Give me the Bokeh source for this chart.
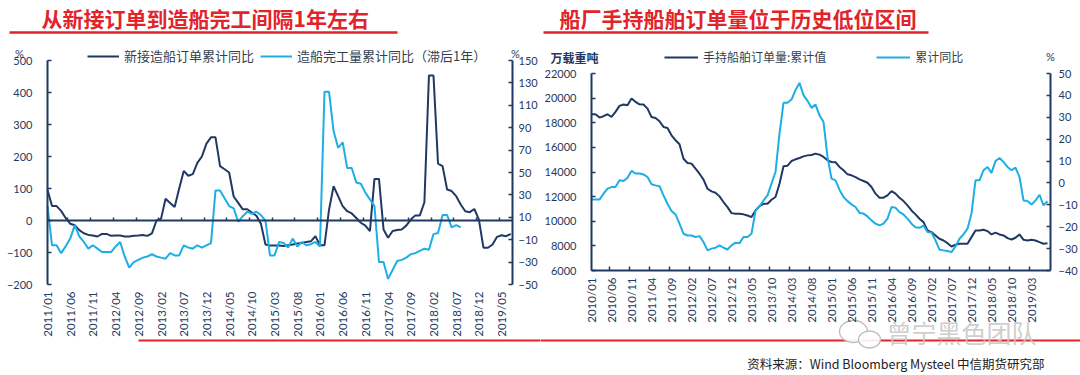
from math import pi
from bokeh.plotting import figure
from bokeh.models import Range1d, LinearAxis, FixedTicker, Legend, LegendItem, Label
from bokeh.layouts import row
from bokeh.embed import file_html
from bokeh.resources import INLINE
from bokeh.core.properties import value

# ---------------- data ----------------
left_months = [f"{2011 + k // 12}/{k % 12 + 1:02d}" for k in range(103)]   # 2011/01 .. 2019/07
new_orders_yoy = [95, 45, 45, 30, 8, -10, -15, -30, -40, -45, -47, -50, -42, -42, -48, -47, -47, -50,
                  -50, -48, -47, -45, -48, -40, 0, 5, 68, 55, 42, 100, 155, 140, 145, 180, 200, 240,
                  260, 260, 170, 160, 150, 75, 55, 35, 35, 25, 15, -10, -75, -78, -78, -78, -80, -77,
                  -75, -72, -70, -67, -65, -49, -77, -77, 34, 107, 76, 45, 29, 22, 8, -7, -16, -33,
                  130, 130, -28, -54, -33, -30, -28, -16, 3, 16, 16, 57, 453, 453, 178, 170, 97, 92,
                  76, 50, 29, 26, 36, 3, -85, -85, -75, -51, -46, -49, -42]
completion_yoy_lag1 = [20, -15, -15, -22, -16, -9, 3, -7, -12, -18, -15, -18, -21, -21, -21, -16, -12,
                       -25, -35, -30, -28, -26, -25, -23, -25, -26, -27, -22, -24, -24, -15, -17, -18,
                       -15, -17, -15, -13, 34, 34, 27, 20, 18, 6, 11, 15, 13, 15, 12, 7, -24, -24, -12,
                       -13, -17, -9, -16, -12, -15, -14, -12, -16, 122, 122, 87, 72, 77, 54, 54, 41, 40,
                       32, 26, 20, -30, -30, -45, -37, -29, -28, -26, -23, -22, -20, -18, -19, -5, -4,
                       12, 12, 1, 3, 1]
left_ticks_l = [-200, -100, 0, 100, 200, 300, 400, 500]
left_ticks_r = [-50, -30, -10, 10, 30, 50, 70, 90, 110, 130, 150]

right_months = [f"{2010 + k // 12}/{k % 12 + 1:02d}" for k in range(115)]  # 2010/01 .. 2019/07
orderbook = [18700, 18690, 18420, 18530, 18690, 18470, 18880, 19370, 19480, 19420, 19970, 19700, 19500,
             19480, 19150, 18470, 18390, 18120, 17660, 17580, 16980, 16580, 16250, 15080, 14730, 14680,
             14270, 13860, 13380, 12640, 12430, 12320, 12020, 11560, 11150, 10660, 10610, 10610, 10560,
             10470, 10340, 10880, 11230, 11420, 11420, 11750, 11970, 13050, 14460, 14510, 14890, 15030,
             15140, 15270, 15350, 15380, 15490, 15410, 15220, 14950, 14810, 14790, 14410, 14140, 13810,
             13730, 13590, 13400, 13270, 13130, 12780, 12240, 11910, 11910, 12100, 12450, 12240, 11910,
             11640, 11290, 10880, 10560, 10200, 9930, 9250, 9120, 8850, 8580, 8440, 8220, 7950, 8090,
             8170, 8170, 8170, 8710, 9250, 9250, 9310, 9200, 8930, 9070, 8930, 8850, 8630, 8520, 8660,
             8930, 8490, 8440, 8490, 8440, 8300, 8170, 8220]
orderbook_yoy = [-7.6, -7.6, -7.6, -4.9, -2.6, -1.9, -1.9, 1.2, 0.9, 2.4, 5.5, 4.3, 4.3, 3.9, 2.7, -0.6,
                 -1.1, -1.5, -5.7, -9.5, -12.8, -14.4, -18.6, -23.2, -24, -24, -24.7, -24.3, -27, -30.8,
                 -30, -29.6, -28.5, -29.6, -30.4, -28.5, -27.3, -27.5, -24.7, -24.7, -23.2, -12.8, -10.7,
                 -8, -5.7, -0.3, 5, 22.5, 36.6, 36.6, 38.1, 42.4, 45.7, 40.1, 37.5, 34.3, 35.8, 30.9,
                 27.9, 11.9, 2, 1.2, -3.1, -6.4, -8.3, -9.8, -11, -13.7, -14, -15.3, -17.1, -18.6, -19.4,
                 -18.6, -16.3, -11, -11.3, -13.3, -14.4, -16.3, -18.6, -20.2, -20.5, -19.5, -22.4, -22.7,
                 -26.2, -30.5, -30.8, -31.1, -31.6, -29, -25.5, -23.5, -20.9, -14, 1.2, 1.2, 5.8, 7.3,
                 4.6, 10, 11.4, 9.6, 7.3, 5.8, 7, 2.7, -8, -8.3, -9.9, -8, -5.4, -10.2, -8.4]
right_ticks_l = [6000, 8000, 10000, 12000, 14000, 16000, 18000, 20000, 22000]
right_ticks_r = [-40, -30, -20, -10, 0, 10, 20, 30, 40, 50]

# ---------------- style ----------------
NAVY = "#1F3864"
DARK = "#1F3864"
LIGHT = "#1EAEE6"
TICKC = "#24395E"
RED = "#E2232A"
CJK = "Noto Sans CJK SC"
NUM = "Lato"
FIG_W, FIG_H = 540, 375


class PxMap:
    """linear map between page pixels and data values for one figure"""

    def __init__(self, fig_left, xa, pxa, xb, pxb, ya, pya, yb, pyb):
        self.fl = fig_left
        self.kx = (xb - xa) / (pxb - pxa)
        self.xa, self.pxa = xa, pxa
        self.ky = (yb - ya) / (pyb - pya)
        self.ya, self.pya = ya, pya

    def x(self, px):
        return self.xa + (px - self.pxa) * self.kx

    def y(self, py):
        return self.ya + (py - self.pya) * self.ky

    def xrange(self):
        return Range1d(self.x(self.fl), self.x(self.fl + FIG_W))

    def yrange(self):
        return Range1d(self.y(FIG_H), self.y(0))


def style_axis(ax, standoff, size="11px"):
    ax.axis_line_color = NAVY
    ax.axis_line_width = 2
    ax.major_tick_line_color = NAVY
    ax.major_tick_line_width = 1.5
    ax.major_tick_in = 4
    ax.major_tick_out = 0
    ax.minor_tick_line_color = NAVY
    ax.minor_tick_line_width = 1.5
    ax.minor_tick_in = 4
    ax.minor_tick_out = 0
    ax.major_label_standoff = standoff
    ax.major_label_text_font = NUM
    ax.major_label_text_font_size = size
    ax.major_label_text_color = TICKC


def base_fig(xr, yr):
    p = figure(width=FIG_W, height=FIG_H, x_range=xr, y_range=yr, output_backend="svg",
               toolbar_location=None, x_axis_location=None, y_axis_location=None,
               min_border=0, min_border_left=0, min_border_right=0, min_border_top=0, min_border_bottom=0)
    p.outline_line_alpha = 0
    p.xgrid.visible = False
    p.ygrid.visible = False
    p.background_fill_color = "white"
    p.border_fill_color = "white"
    return p


def tlabel(p, x, y, text, size="11px", font=NUM, bold=False, align="center"):
    p.add_layout(Label(x=x, y=y, text=text, text_font=font, text_font_size=size,
                       text_font_style="bold" if bold else "normal", text_color=TICKC,
                       text_align=align, text_baseline="middle"))


# ---------------- left chart ----------------
L_END = 102.4
mL = PxMap(0, 0, 47, L_END, 512, 500, 60, -200, 284)
mLr = PxMap(0, 0, 47, L_END, 512, 150, 60, -50, 284)
p1 = base_fig(mL.xrange(), mL.yrange())
p1.extra_y_ranges = {"r": mLr.yrange()}

ax = LinearAxis(ticker=FixedTicker(ticks=left_ticks_l, minor_ticks=[]), fixed_location=0,
                bounds=(-200, 500))
style_axis(ax, 15)
p1.add_layout(ax, "left")
ax = LinearAxis(y_range_name="r", ticker=FixedTicker(ticks=left_ticks_r, minor_ticks=[]),
                fixed_location=L_END, bounds=(-50, 150))
style_axis(ax, 6)
p1.add_layout(ax, "right")

xt1 = list(range(0, len(left_months), 5))
# category labels at the low end (-200)
bx = LinearAxis(ticker=FixedTicker(ticks=xt1, minor_ticks=[]), fixed_location=-200,
                major_label_overrides={i: left_months[i] for i in xt1})
style_axis(bx, 7, "11.5px")
bx.axis_line_alpha = 0
bx.major_tick_line_alpha = 0
bx.major_label_orientation = pi / 2
p1.add_layout(bx, "below")
# category axis line crossing at zero, tick marks between categories, no labels
zx = LinearAxis(ticker=FixedTicker(ticks=[], minor_ticks=[t - 0.5 for t in xt1[1:]]),
                fixed_location=0, bounds=(0, L_END))
style_axis(zx, 0)
zx.minor_tick_in = 3
p1.add_layout(zx, "below")

r1 = p1.line(list(range(len(new_orders_yoy))), new_orders_yoy, line_color=DARK, line_width=2)
r2 = p1.line(list(range(len(completion_yoy_lag1))), completion_yoy_lag1, line_color=LIGHT,
             line_width=2, y_range_name="r")

leg1 = Legend(items=[LegendItem(label="新接造船订单累计同比", renderers=[r1]),
                     LegendItem(label="造船完工量累计同比（滞后1年）", renderers=[r2])],
              location=(87, 375 - 65), orientation="horizontal", padding=0, margin=0, spacing=6,
              glyph_width=32, glyph_height=16, label_height=16, label_standoff=5,
              label_text_font=CJK, label_text_font_size="13px", label_text_color="#333F50",
              border_line_alpha=0, background_fill_alpha=0)
p1.add_layout(leg1)

tlabel(p1, mL.x(19), mL.y(53), "%")
tlabel(p1, mL.x(515), mL.y(53), "%")

# title, underline and bottom rule (left half)
p1.text(x=[mL.x(41)], y=[mL.y(17)], text=["从新接订单到造船完工间隔1年左右"], text_font=value(CJK),
        text_font_style="bold", text_font_size="21px", text_color=RED, text_align="left",
        text_baseline="middle")
p1.segment(x0=[mL.x(9), mL.x(138)], y0=[mL.y(32), mL.y(340)], x1=[mL.x(397), mL.x(541)],
           y1=[mL.y(32), mL.y(340)], line_color=RED, line_width=[2.5, 2])

# ---------------- right chart ----------------
R_END = 114.75
mR = PxMap(540, 0, 591, R_END, 1050, 22000, 73, 6000, 270)
mRr = PxMap(540, 0, 591, R_END, 1050, 50, 73, -40, 270)
p2 = base_fig(mR.xrange(), mR.yrange())
p2.extra_y_ranges = {"r": mRr.yrange()}

ax = LinearAxis(ticker=FixedTicker(ticks=right_ticks_l, minor_ticks=[]), fixed_location=0,
                bounds=(6000, 22000))
style_axis(ax, 15)
p2.add_layout(ax, "left")
ax = LinearAxis(y_range_name="r", ticker=FixedTicker(ticks=right_ticks_r, minor_ticks=[]),
                fixed_location=R_END, bounds=(-40, 50))
style_axis(ax, 8)
p2.add_layout(ax, "right")

xt2 = list(range(0, len(right_months), 5))
bx2 = LinearAxis(ticker=FixedTicker(ticks=xt2, minor_ticks=[t - 0.5 for t in xt2[1:]]),
                 fixed_location=6000, bounds=(0, R_END),
                 major_label_overrides={i: right_months[i] for i in xt2})
style_axis(bx2, 7, "11.5px")
bx2.major_tick_line_alpha = 0
bx2.major_label_orientation = pi / 2
p2.add_layout(bx2, "below")

r3 = p2.line(list(range(len(orderbook))), orderbook, line_color=DARK, line_width=2)
r4 = p2.line(list(range(len(orderbook_yoy))), orderbook_yoy, line_color=LIGHT, line_width=2,
             y_range_name="r")

leg2 = Legend(items=[LegendItem(label="手持船舶订单量:累计值", renderers=[r3]),
                     LegendItem(label="累计同比", renderers=[r4])],
              location=(664 - 540, 375 - 65), orientation="horizontal", padding=0, margin=0, spacing=50,
              glyph_width=34, glyph_height=16, label_height=16, label_standoff=5,
              label_text_font=CJK, label_text_font_size="12px", label_text_color="#333F50",
              border_line_alpha=0, background_fill_alpha=0)
p2.add_layout(leg2)

tlabel(p2, mR.x(550), mR.y(57), "万载重吨", size="12px", font=CJK, bold=True, align="left")
tlabel(p2, mR.x(1050), mR.y(56), "%")

p2.text(x=[mR.x(559)], y=[mR.y(17)], text=["船厂手持船舶订单量位于历史低位区间"], text_font=value(CJK),
        text_font_style="bold", text_font_size="21px", text_color=RED, text_align="left",
        text_baseline="middle")
p2.segment(x0=[mR.x(543), mR.x(539)], y0=[mR.y(32), mR.y(340)], x1=[mR.x(928), mR.x(1080)],
           y1=[mR.y(32), mR.y(340)], line_color=RED, line_width=[2.5, 2])

# watermark
p2.ellipse(x=[mR.x(853), mR.x(869)], y=[mR.y(331), mR.y(339)], width=[28, 22], height=[22, 17],
           width_units="screen", height_units="screen", fill_color="white", fill_alpha=0.9,
           line_color="#BDBDBD", line_width=1.3)
p2.text(x=[mR.x(886)], y=[mR.y(331)], text=["曾宁黑色团队"], text_font=value(CJK), text_font_size="25px",
        text_color="#C6C6C6", text_alpha=0.85, text_align="left", text_baseline="middle")

# source note
p2.text(x=[mR.x(1044)], y=[mR.y(363)], text=["资料来源：Wind Bloomberg Mysteel 中信期货研究部"],
        text_font=value(CJK), text_font_size="12.5px", text_color="#222222", text_align="right",
        text_baseline="middle")

layout = row(p1, p2)
open("out.html", "w").write(file_html(layout, INLINE))
